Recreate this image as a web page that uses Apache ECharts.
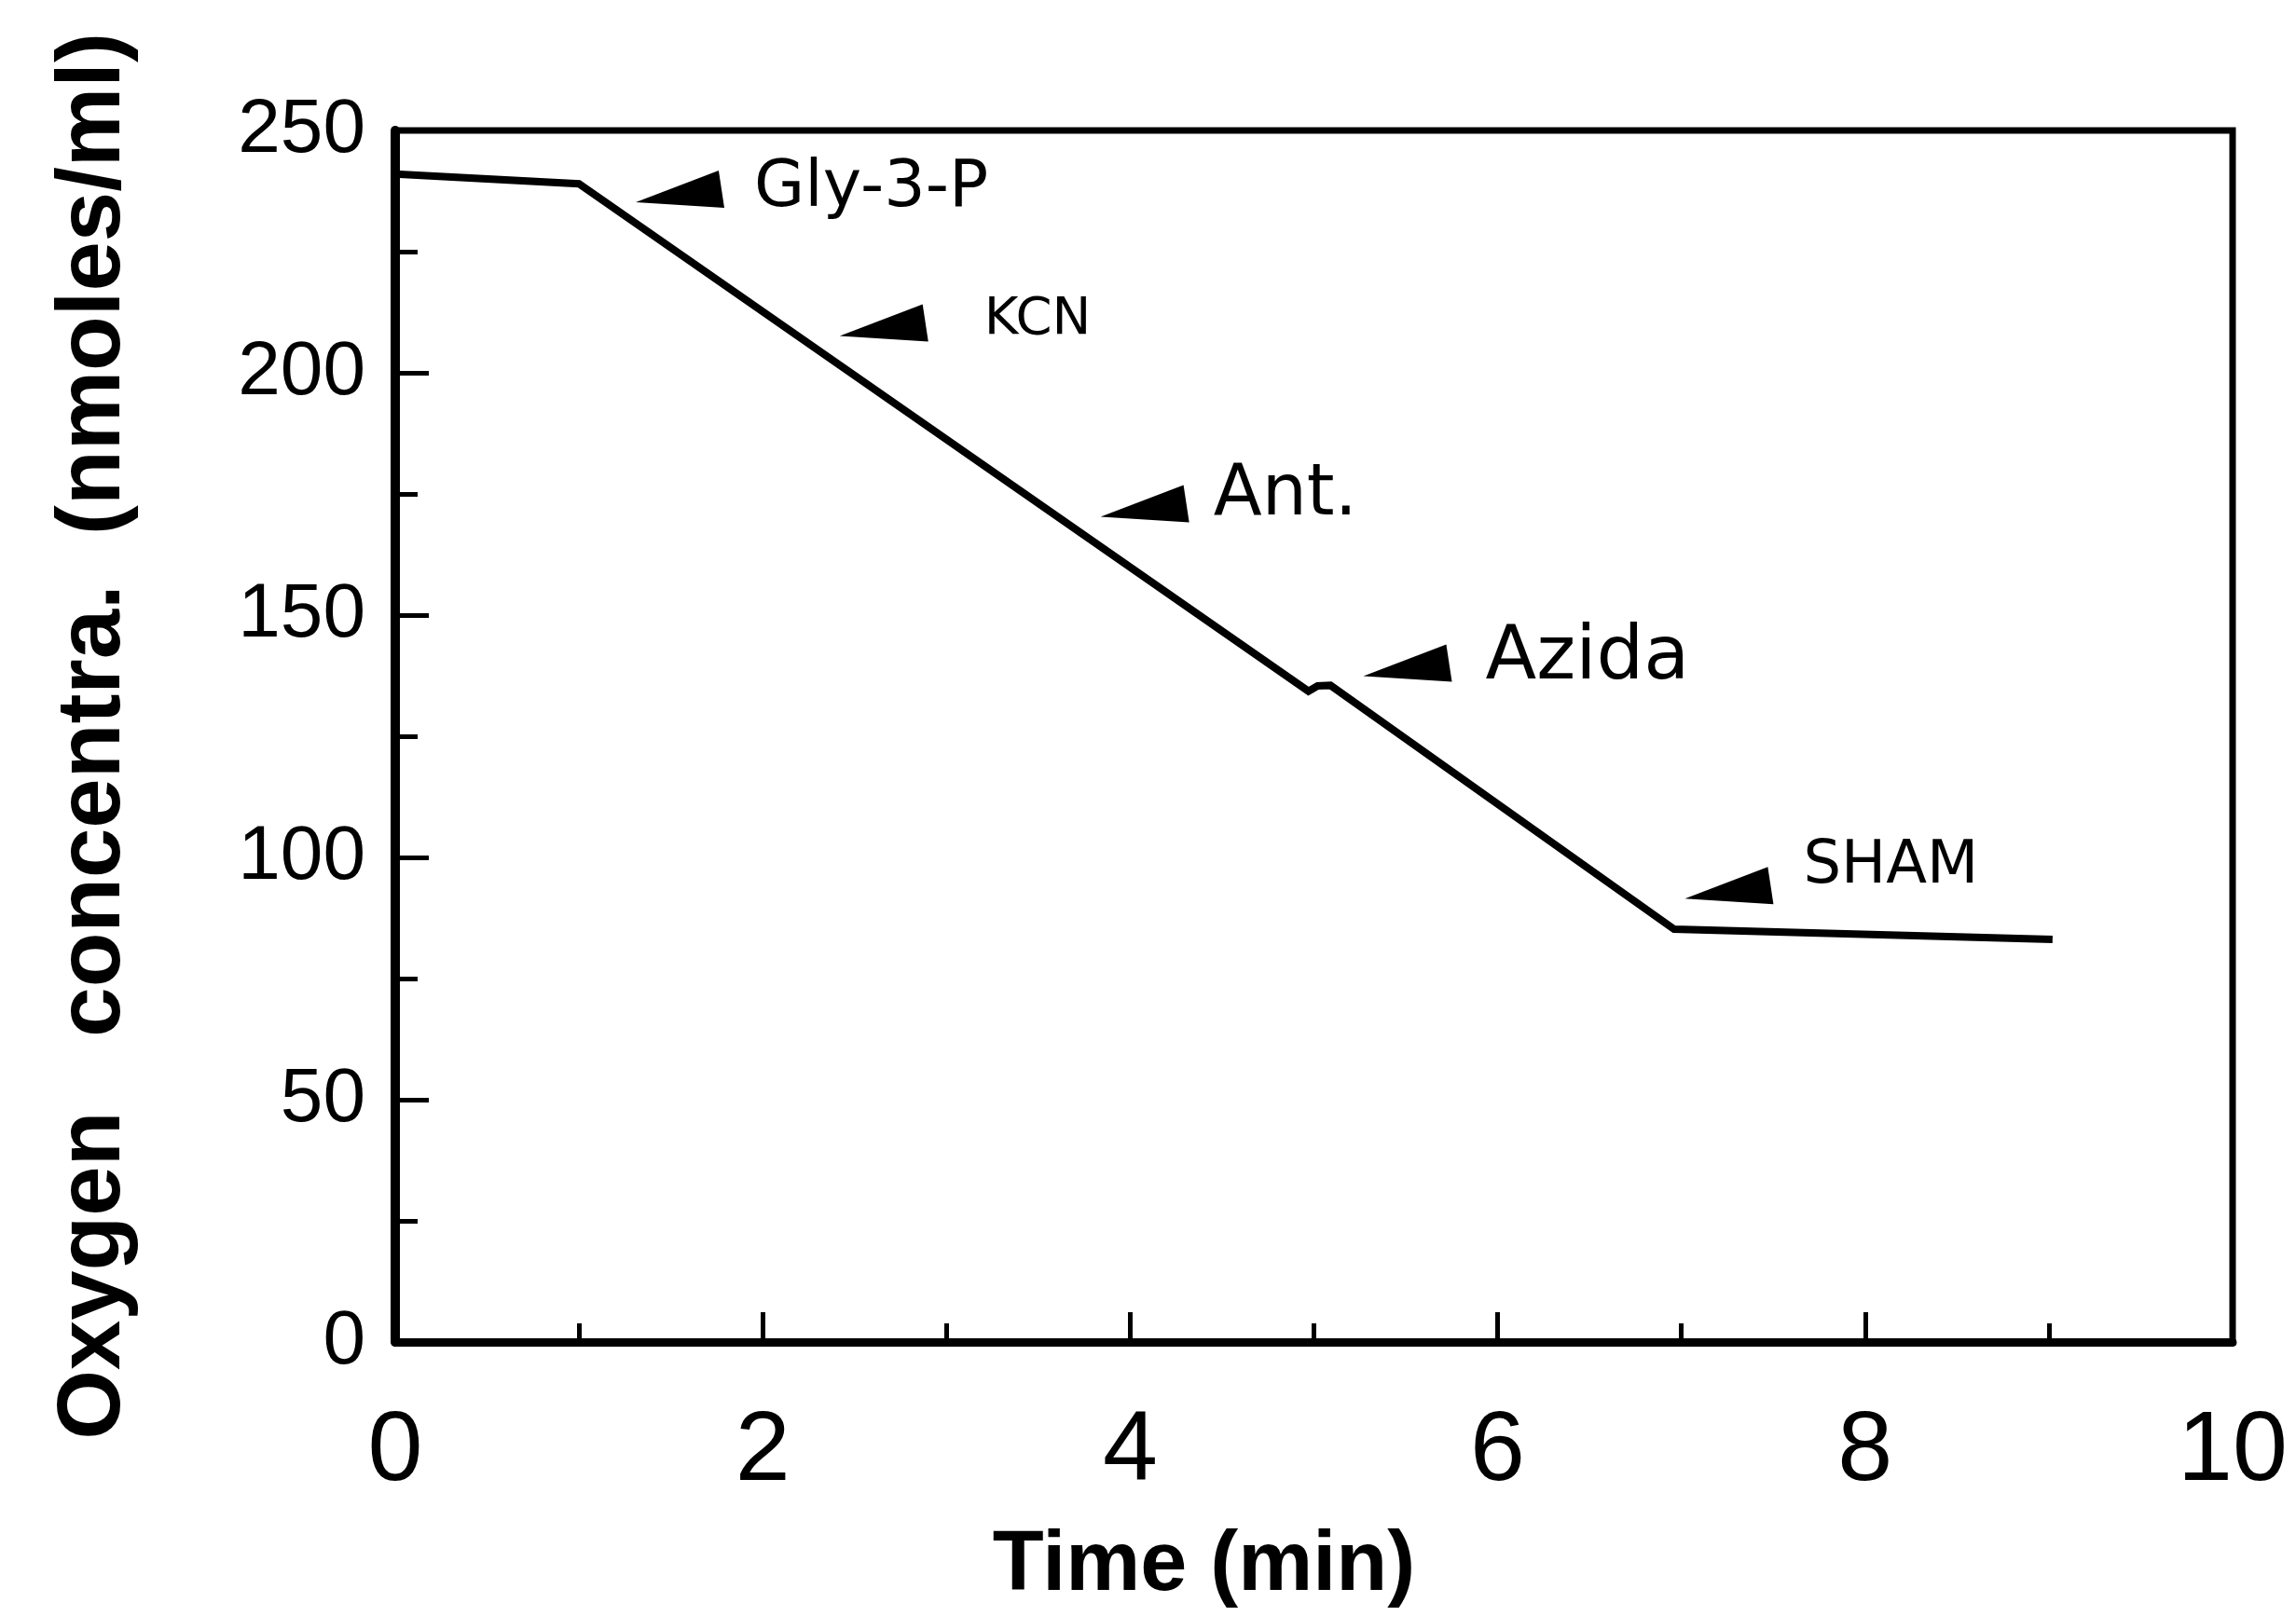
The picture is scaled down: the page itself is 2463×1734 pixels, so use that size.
<!DOCTYPE html>
<html>

<head>
  <meta charset="utf-8">
  <title>Oxygen concentration</title>
  <script src="https://cdn.jsdelivr.net/npm/echarts@6/dist/echarts.min.js"></script>
  <style>
    html, body { margin: 0; padding: 0; background: #fff; }
  </style>
</head>

<body>
  <div id="chart" style="width: 2463px;height:1734px;"></div>
  <script>
    // oxygen trace
    let times = [0, 1.0, 4.97, 5.02, 5.09, 6.96, 9.02];
    let conc = [241, 239, 134.3, 135.4, 135.5, 85.2, 83.1];

    // arrow marks for the additions
    let noteNames = ['Gly-3-P', 'KCN', 'Ant.', 'Azida', 'SHAM'];
    let noteTimes = [1.55, 2.66, 4.08, 5.51, 7.26];
    let noteConc = [237.9, 210.3, 173.0, 140.1, 94.2];

    let yTicks = [0, 50, 100, 150, 200, 250];

    // label look for each note (same order as noteNames)
    let noteFont = [70, 56, 76, 80, 64];
    let noteGap = [32, 60, 26, 36, 32];
    let noteShift = [0, -3, -8, -4, -20];

    let line = [];
    for (let i in times)
      line.push([times[i], conc[i]]);

    let notes = [];
    for (let i in noteNames) {
      notes.push({
        value: [noteTimes[i], noteConc[i]],
        label: {
          formatter: noteNames[i],
          fontSize: noteFont[i],
          distance: noteGap[i],
          offset: [0, noteShift[i]]
        }
      });
    }

    let myChart = echarts.init(document.getElementById('chart'));
    let option = {
      animation: false,
      backgroundColor: '#fff',
      grid: {
        left: 424,
        right: 68,
        top: 140,
        bottom: 294,
        show: true,
        borderColor: '#000',
        borderWidth: 7
      },
      xAxis: {
        type: 'value',
        min: 0,
        max: 10,
        interval: 2,
        name: 'Time (min)',
        nameLocation: 'middle',
        nameGap: 196,
        nameTextStyle: {
          fontFamily: 'Liberation Sans',
          fontWeight: 'bold',
          fontSize: 90,
          color: '#000',
          padding: [0, 236, 0, 0]
        },
        axisLine: { lineStyle: { color: '#000', width: 9 } },
        axisTick: { inside: true, length: 32, lineStyle: { color: '#000', width: 5 } },
        minorTick: { show: true, splitNumber: 2, length: 20, lineStyle: { color: '#000', width: 5 } },
        splitLine: { show: false },
        axisLabel: {
          margin: 66,
          fontFamily: 'Liberation Sans',
          fontSize: 106,
          color: '#000'
        }
      },
      yAxis: {
        type: 'value',
        min: 0,
        max: 250,
        interval: 50,
        name: 'Oxygen   concentra.  (nmoles/ml)',
        nameLocation: 'middle',
        nameGap: 274,
        nameTextStyle: {
          fontFamily: 'Liberation Sans',
          fontWeight: 'bold',
          fontSize: 96,
          color: '#000'
        },
        axisLine: { lineStyle: { color: '#000', width: 10 } },
        axisTick: { inside: true, length: 36, lineStyle: { color: '#000', width: 5 } },
        minorTick: { show: true, splitNumber: 2, length: 24, lineStyle: { color: '#000', width: 5 } },
        splitLine: { show: false },
        axisLabel: {
          margin: 32,
          fontFamily: 'Liberation Sans',
          fontSize: 82,
          color: '#000',
          formatter: function (v) {
            return yTicks.indexOf(v) >= 0 ? String(v) : '';
          }
        }
      },
      series: [
        {
          type: 'line',
          data: line,
          symbol: 'none',
          lineStyle: { color: '#000', width: 8, join: 'miter' }
        },
        {
          type: 'scatter',
          data: notes,
          symbol: 'path://M0,34 L88,0 L94,40 Z',
          symbolSize: [95, 40],
          symbolKeepAspect: false,
          itemStyle: { color: '#000', opacity: 1 },
          label: {
            show: true,
            position: 'right',
            fontFamily: 'DejaVu Sans',
            color: '#000'
          }
        }
      ]
    };
    myChart.setOption(option);
  </script>

</body>

</html>
